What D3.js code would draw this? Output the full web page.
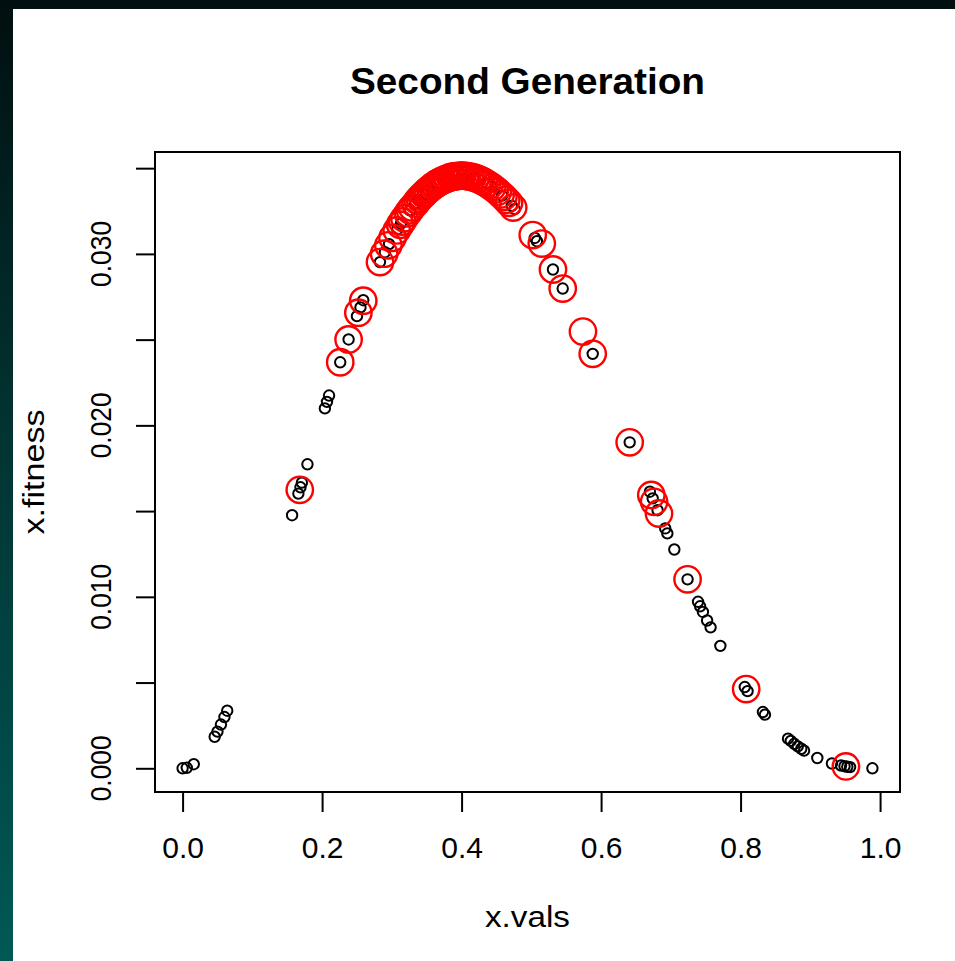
<!DOCTYPE html>
<html>
<head>
<meta charset="utf-8">
<script src="https://cdn.jsdelivr.net/npm/d3@7"></script>
<style>
body { margin: 0; background: #000; }
svg { display: block; }
text { font-family: "Liberation Sans", Arial, sans-serif; fill: #000; }
</style>
</head>
<body>
<svg id="chart" width="955" height="961"></svg>
<script>
// ---- data ----
// current population (black)
const popX = [0.000, 0.006, 0.016, 0.046, 0.050, 0.055, 0.060, 0.064,
  0.157, 0.166, 0.169, 0.171, 0.179, 0.204, 0.207, 0.210,
  0.226, 0.238, 0.250, 0.255, 0.259, 0.283, 0.290, 0.296,
  0.308, 0.313, 0.326, 0.333, 0.338, 0.345, 0.352, 0.365,
  0.383, 0.392, 0.401, 0.410, 0.419, 0.437, 0.443, 0.458,
  0.472, 0.476, 0.505, 0.508, 0.531, 0.545, 0.588, 0.641,
  0.670, 0.674, 0.681, 0.692, 0.695, 0.705, 0.724, 0.739,
  0.742, 0.746, 0.752, 0.757, 0.771, 0.806, 0.810, 0.832,
  0.835, 0.868, 0.872, 0.877, 0.882, 0.887, 0.891, 0.910,
  0.931, 0.944, 0.949, 0.953, 0.957, 0.989]
const popFit = [0.00000, 0.00003, 0.00024, 0.00184, 0.00214, 0.00255, 0.00299, 0.00336,
  0.01476, 0.01602, 0.01639, 0.01666, 0.01773, 0.02099, 0.02137, 0.02174,
  0.02368, 0.02501, 0.02637, 0.02688, 0.02730, 0.02952, 0.03010, 0.03057,
  0.03144, 0.03176, 0.03254, 0.03294, 0.03314, 0.03346, 0.03372, 0.03412,
  0.03446, 0.03454, 0.03456, 0.03453, 0.03443, 0.03409, 0.03391, 0.03340,
  0.03280, 0.03261, 0.03093, 0.03074, 0.02909, 0.02798, 0.02417, 0.01901,
  0.01613, 0.01574, 0.01505, 0.01399, 0.01370, 0.01276, 0.01102, 0.00971,
  0.00945, 0.00912, 0.00862, 0.00822, 0.00714, 0.00474, 0.00450, 0.00328,
  0.00313, 0.00173, 0.00160, 0.00143, 0.00128, 0.00114, 0.00103, 0.00060,
  0.00028, 0.00016, 0.00012, 0.00009, 0.00007, 0.00000]

// selected individuals (red)
const selX = [0.168, 0.226, 0.238, 0.252, 0.259, 0.283, 0.289, 0.295,
  0.301, 0.307, 0.312, 0.315, 0.318, 0.323, 0.326, 0.329,
  0.334, 0.337, 0.340, 0.343, 0.346, 0.349, 0.352, 0.355,
  0.358, 0.361, 0.364, 0.367, 0.370, 0.373, 0.377, 0.380,
  0.384, 0.387, 0.391, 0.394, 0.398, 0.401, 0.405, 0.408,
  0.412, 0.416, 0.420, 0.424, 0.428, 0.432, 0.436, 0.440,
  0.444, 0.448, 0.452, 0.456, 0.460, 0.464, 0.468, 0.474,
  0.502, 0.515, 0.531, 0.545, 0.574, 0.588, 0.641, 0.672,
  0.676, 0.683, 0.724, 0.808, 0.951]
const selFit = [0.01624, 0.02368, 0.02501, 0.02657, 0.02727, 0.02952, 0.03001, 0.03050,
  0.03094, 0.03137, 0.03170, 0.03189, 0.03208, 0.03237, 0.03254, 0.03270,
  0.03293, 0.03310, 0.03323, 0.03336, 0.03348, 0.03360, 0.03372, 0.03381,
  0.03392, 0.03400, 0.03409, 0.03416, 0.03423, 0.03429, 0.03436, 0.03441,
  0.03447, 0.03450, 0.03453, 0.03454, 0.03456, 0.03456, 0.03455, 0.03454,
  0.03451, 0.03447, 0.03442, 0.03436, 0.03428, 0.03420, 0.03410, 0.03400,
  0.03388, 0.03376, 0.03363, 0.03347, 0.03333, 0.03316, 0.03298, 0.03270,
  0.03110, 0.03060, 0.02909, 0.02798, 0.02547, 0.02417, 0.01901, 0.01594,
  0.01554, 0.01486, 0.01102, 0.00462, 0.00011]

const xTicks = [0, 0.2, 0.4, 0.6, 0.8, 1.0]
const yTicks = [0, 0.005, 0.01, 0.015, 0.02, 0.025, 0.03, 0.035]
const yTickLabels = ["0.000", "0.010", "0.020", "0.030"]
const yLabelled = [0, 0.01, 0.02, 0.03]

const titleText = "Second Generation"
const xLabel = "x.vals"
const yLabel = "x.fitness"

function draw() {

//*************** 1. canvas & background
const svg = d3.select("#chart")
const W = 955, H = 961

const grad = svg.append("defs").append("linearGradient")
  .attr("id", "bg").attr("x1", 0).attr("y1", 0).attr("x2", 0).attr("y2", 1)
grad.append("stop").attr("offset", "0%").attr("stop-color", "#010f10")
grad.append("stop").attr("offset", "40%").attr("stop-color", "#01302f")
grad.append("stop").attr("offset", "100%").attr("stop-color", "#005955")

svg.append("rect").attr("width", W).attr("height", H).attr("fill", "url(#bg)")
svg.append("rect").attr("x", 13).attr("y", 9)
  .attr("width", W - 13).attr("height", H - 9).attr("fill", "#fff")

//*************** 2. scales (R style: data range padded 4%)
const box = {left: 155, right: 900, top: 152, bottom: 792}
const pad = ([a, b]) => [a - 0.04 * (b - a), b + 0.04 * (b - a)]

const x = d3.scaleLinear().domain(pad(d3.extent(popX))).range([box.left, box.right])
const y = d3.scaleLinear().domain(pad(d3.extent(popFit))).range([box.bottom, box.top])

//*************** 3. axes
const xAxis = svg.append("g")
  .attr("transform", `translate(0,${box.bottom})`)
  .call(d3.axisBottom(x).tickValues(xTicks).tickSize(20).tickFormat(d3.format(".1f")))
xAxis.select(".domain").remove()
xAxis.selectAll("line").attr("stroke", "#000").attr("stroke-width", 2)
xAxis.selectAll("text")
  .attr("y", 66).attr("dy", 0)
  .attr("font-size", 30)
  .attr("font-family", "Liberation Sans, Arial, sans-serif")
  .attr("fill", "#000")

const yAxis = svg.append("g")
  .attr("transform", `translate(${box.left},0)`)
  .call(d3.axisLeft(y).tickValues(yTicks).tickSize(19).tickFormat(""))
yAxis.select(".domain").remove()
yAxis.selectAll("line").attr("stroke", "#000").attr("stroke-width", 2)

svg.append("g").selectAll("text")
  .data(yLabelled)
  .join("text")
  .attr("transform", d => `translate(111,${y(d)}) rotate(-90)`)
  .attr("text-anchor", "middle")
  .attr("font-size", 29)
  .attr("textLength", 66).attr("lengthAdjust", "spacingAndGlyphs")
  .text((d, i) => yTickLabels[i])

// plot frame
svg.append("rect")
  .attr("x", box.left).attr("y", box.top)
  .attr("width", box.right - box.left).attr("height", box.bottom - box.top)
  .attr("fill", "none").attr("stroke", "#000").attr("stroke-width", 2)

//*************** 4. titles
svg.append("text")
  .attr("x", (box.left + box.right) / 2).attr("y", 94)
  .attr("text-anchor", "middle")
  .attr("font-size", 37).attr("font-weight", "bold")
  .attr("textLength", 355).attr("lengthAdjust", "spacingAndGlyphs")
  .text(titleText)

svg.append("text")
  .attr("x", (box.left + box.right) / 2).attr("y", 927)
  .attr("text-anchor", "middle")
  .attr("font-size", 29)
  .attr("textLength", 85).attr("lengthAdjust", "spacingAndGlyphs")
  .text(xLabel)

svg.append("text")
  .attr("transform", `translate(44,${(box.top + box.bottom) / 2}) rotate(-90)`)
  .attr("text-anchor", "middle")
  .attr("font-size", 29)
  .attr("textLength", 125).attr("lengthAdjust", "spacingAndGlyphs")
  .text(yLabel)

//*************** 5. points: population first, selected on top
svg.append("g").selectAll("circle")
  .data(popX.map((v, i) => [v, popFit[i]]))
  .join("circle")
  .attr("cx", d => x(d[0]))
  .attr("cy", d => y(d[1]))
  .attr("r", 5.2)
  .attr("fill", "none")
  .attr("stroke", "#000")
  .attr("stroke-width", 2)

svg.append("g").selectAll("circle")
  .data(selX.map((v, i) => [v, selFit[i]]))
  .join("circle")
  .attr("cx", d => x(d[0]))
  .attr("cy", d => y(d[1]))
  .attr("r", 13.2)
  .attr("fill", "none")
  .attr("stroke", "#ff0000")
  .attr("stroke-width", 2.4)

}
draw()
</script>
</body>
</html>
